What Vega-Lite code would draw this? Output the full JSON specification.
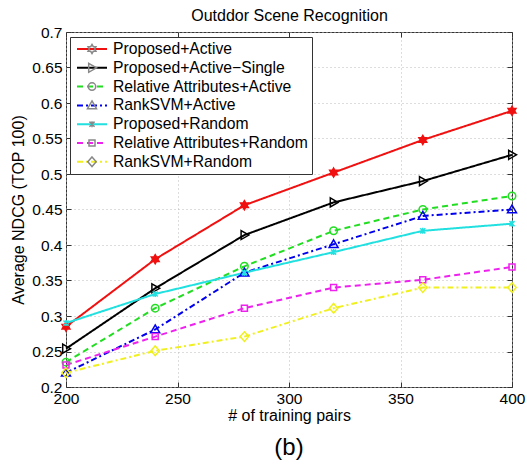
{
  "$schema": "https://vega.github.io/schema/vega-lite/v6.json",
  "width": 446,
  "height": 355,
  "autosize": {"type": "none"},
  "padding": {"left": 66, "top": 32, "right": 15, "bottom": 78},
  "title": {"text": "(b)", "orient": "bottom", "anchor": "middle", "frame": "group", "fontSize": 24, "fontWeight": "normal", "font": "Liberation Sans", "color": "#000000", "offset": 13},
  "config": {
    "font": "Liberation Sans",
    "view": {"stroke": "#333333", "strokeWidth": 1},
    "axis": {"domain": false, "tickColor": "#333333", "tickSize": -5, "labelColor": "#000000", "titleColor": "#000000", "labelFont": "Liberation Sans", "titleFont": "Liberation Sans", "labelFontSize": 15.5, "titleFontSize": 16, "titleFontWeight": "normal", "labelFlush": false, "labelOverlap": false, "labelBound": false, "gridColor": "#bbbbbb", "gridDash": [1, 3], "gridWidth": 1}
  },
  "data": {"values": [
    {"series": "Proposed+Active", "n": 200, "v": 0.285},
    {"series": "Proposed+Active", "n": 240, "v": 0.38},
    {"series": "Proposed+Active", "n": 280, "v": 0.456},
    {"series": "Proposed+Active", "n": 320, "v": 0.502},
    {"series": "Proposed+Active", "n": 360, "v": 0.548},
    {"series": "Proposed+Active", "n": 400, "v": 0.589},
    {"series": "Proposed+Active−Single", "n": 200, "v": 0.254},
    {"series": "Proposed+Active−Single", "n": 240, "v": 0.339},
    {"series": "Proposed+Active−Single", "n": 280, "v": 0.414},
    {"series": "Proposed+Active−Single", "n": 320, "v": 0.46},
    {"series": "Proposed+Active−Single", "n": 360, "v": 0.49},
    {"series": "Proposed+Active−Single", "n": 400, "v": 0.527},
    {"series": "Relative Attributes+Active", "n": 200, "v": 0.235},
    {"series": "Relative Attributes+Active", "n": 240, "v": 0.311},
    {"series": "Relative Attributes+Active", "n": 280, "v": 0.37},
    {"series": "Relative Attributes+Active", "n": 320, "v": 0.42},
    {"series": "Relative Attributes+Active", "n": 360, "v": 0.45},
    {"series": "Relative Attributes+Active", "n": 400, "v": 0.469},
    {"series": "RankSVM+Active", "n": 200, "v": 0.22},
    {"series": "RankSVM+Active", "n": 240, "v": 0.281},
    {"series": "RankSVM+Active", "n": 280, "v": 0.361},
    {"series": "RankSVM+Active", "n": 320, "v": 0.401},
    {"series": "RankSVM+Active", "n": 360, "v": 0.441},
    {"series": "RankSVM+Active", "n": 400, "v": 0.45},
    {"series": "Proposed+Random", "n": 200, "v": 0.29},
    {"series": "Proposed+Random", "n": 240, "v": 0.331},
    {"series": "Proposed+Random", "n": 280, "v": 0.361},
    {"series": "Proposed+Random", "n": 320, "v": 0.39},
    {"series": "Proposed+Random", "n": 360, "v": 0.42},
    {"series": "Proposed+Random", "n": 400, "v": 0.43},
    {"series": "Relative Attributes+Random", "n": 200, "v": 0.231},
    {"series": "Relative Attributes+Random", "n": 240, "v": 0.271},
    {"series": "Relative Attributes+Random", "n": 280, "v": 0.311},
    {"series": "Relative Attributes+Random", "n": 320, "v": 0.34},
    {"series": "Relative Attributes+Random", "n": 360, "v": 0.351},
    {"series": "Relative Attributes+Random", "n": 400, "v": 0.369},
    {"series": "RankSVM+Random", "n": 200, "v": 0.22},
    {"series": "RankSVM+Random", "n": 240, "v": 0.251},
    {"series": "RankSVM+Random", "n": 280, "v": 0.271},
    {"series": "RankSVM+Random", "n": 320, "v": 0.311},
    {"series": "RankSVM+Random", "n": 360, "v": 0.34},
    {"series": "RankSVM+Random", "n": 400, "v": 0.34}
  ]},
  "layer": [
    {
      "mark": {"type": "line", "strokeWidth": 2},
      "encoding": {
        "x": {"field": "n", "type": "quantitative", "scale": {"domain": [200, 400], "nice": false, "zero": false},
              "axis": {"orient": "bottom", "values": [200, 250, 300, 350, 400], "grid": true, "title": "# of training pairs", "labelPadding": 9.5, "titlePadding": 0}},
        "y": {"field": "v", "type": "quantitative", "scale": {"domain": [0.2, 0.7], "nice": false, "zero": false},
              "axis": {"orient": "left", "values": [0.2, 0.25, 0.3, 0.35, 0.4, 0.45, 0.5, 0.55, 0.6, 0.65, 0.7], "format": ".2~f", "grid": true, "title": "Average NDCG (TOP 100)", "labelPadding": 9, "titlePadding": 5}},
        "color": {"field": "series", "type": "nominal",
                  "scale": {"domain": ["Proposed+Active", "Proposed+Active−Single", "Relative Attributes+Active", "RankSVM+Active", "Proposed+Random", "Relative Attributes+Random", "RankSVM+Random"],
                            "range": ["#f01010", "#000000", "#22dd22", "#0000ee", "#22e0e0", "#ee22ee", "#f0f020"]},
                  "legend": {"orient": "none", "legendX": 4, "legendY": 5, "title": null, "columns": 1, "symbolType": "stroke", "symbolSize": 900, "symbolStrokeWidth": 2, "clipHeight": 18, "rowPadding": 0.8, "labelFontSize": 15.7, "labelFont": "Liberation Sans", "labelColor": "#000000", "labelLimit": 300, "labelOffset": 5, "symbolOffset": 3, "padding": 3, "strokeColor": "#333333", "fillColor": "#ffffff"}},
        "strokeDash": {"field": "series", "type": "nominal",
                  "scale": {"domain": ["Proposed+Active", "Proposed+Active−Single", "Relative Attributes+Active", "RankSVM+Active", "Proposed+Random", "Relative Attributes+Random", "RankSVM+Random"],
                            "range": [[1, 0], [1, 0], [6, 4], [6, 3, 2, 3], [1, 0], [6, 4], [6, 3, 2, 3]]},
                  "legend": {"orient": "none", "legendX": 4, "legendY": 5, "title": null, "columns": 1, "symbolType": "stroke", "symbolSize": 900, "symbolStrokeWidth": 2, "clipHeight": 18, "rowPadding": 0.8, "labelFontSize": 15.7, "labelFont": "Liberation Sans", "labelColor": "#000000", "labelLimit": 300, "labelOffset": 5, "symbolOffset": 3, "padding": 3, "strokeColor": "#333333", "fillColor": "#ffffff"}}
      }
    },
    {
      "mark": {"type": "point", "size": 900, "filled": false, "strokeWidth": 1.5, "opacity": 1},
      "encoding": {
        "x": {"field": "n", "type": "quantitative", "scale": {"domain": [200, 400], "nice": false, "zero": false},
              "axis": {"orient": "top", "values": [200, 250, 300, 350, 400], "labels": false, "grid": false, "title": "Outddor Scene Recognition", "titlePadding": 8}},
        "y": {"field": "v", "type": "quantitative", "scale": {"domain": [0.2, 0.7], "nice": false, "zero": false},
              "axis": {"orient": "right", "values": [0.2, 0.25, 0.3, 0.35, 0.4, 0.45, 0.5, 0.55, 0.6, 0.65, 0.7], "labels": false, "grid": false, "title": null}},
        "color": {"field": "series", "type": "nominal",
                  "scale": {"domain": ["Proposed+Active", "Proposed+Active−Single", "Relative Attributes+Active", "RankSVM+Active", "Proposed+Random", "Relative Attributes+Random", "RankSVM+Random"],
                            "range": ["#f01010", "#000000", "#22dd22", "#0000ee", "#22e0e0", "#ee22ee", "#f0f020"]},
                  "legend": null},
        "fill": {"condition": {"test": "datum.series === 'Proposed+Active'", "value": "#f01010"}, "value": "transparent"},
        "shape": {"field": "series", "type": "nominal", "sort": null,
                  "scale": {"range": [
                    "M0,-0.3L0.087,-0.15L0.26,-0.15L0.173,0L0.26,0.15L0.087,0.15L0,0.3L-0.087,0.15L-0.26,0.15L-0.173,0L-0.26,-0.15L-0.087,-0.15Z",
                    "M-0.22,-0.3L0.3,0L-0.22,0.3Z",
                    "M0.25,0A0.25,0.25,0,1,1,-0.25,0A0.25,0.25,0,1,1,0.25,0Z",
                    "M0,-0.3L0.3,0.22L-0.3,0.22Z",
                    "M-0.17,-0.17L0.17,0.17M-0.17,0.17L0.17,-0.17M0,-0.2L0,0.2",
                    "M-0.2,-0.2L0.2,-0.2L0.2,0.2L-0.2,0.2Z",
                    "M0,-0.32L0.28,0L0,0.32L-0.28,0Z"
                  ]},
                  "legend": {"orient": "none", "legendX": 4, "legendY": 5, "title": null, "columns": 1, "symbolSize": 900, "symbolStrokeWidth": 1.5, "clipHeight": 18, "rowPadding": 0.8, "labelFontSize": 15.7, "labelFont": "Liberation Sans", "labelColor": "transparent", "labelLimit": 300, "labelOffset": 5, "symbolOffset": 3, "padding": 3,
                             "encode": {"symbols": {"update": {"stroke": {"scale": "color", "field": "value"}, "fill": {"signal": "datum.value === 'Proposed+Active' ? '#f01010' : 'transparent'"}, "opacity": {"value": 1}}}}}}
      }
    }
  ],
  "resolve": {"axis": {"x": "independent", "y": "independent"}}
}
